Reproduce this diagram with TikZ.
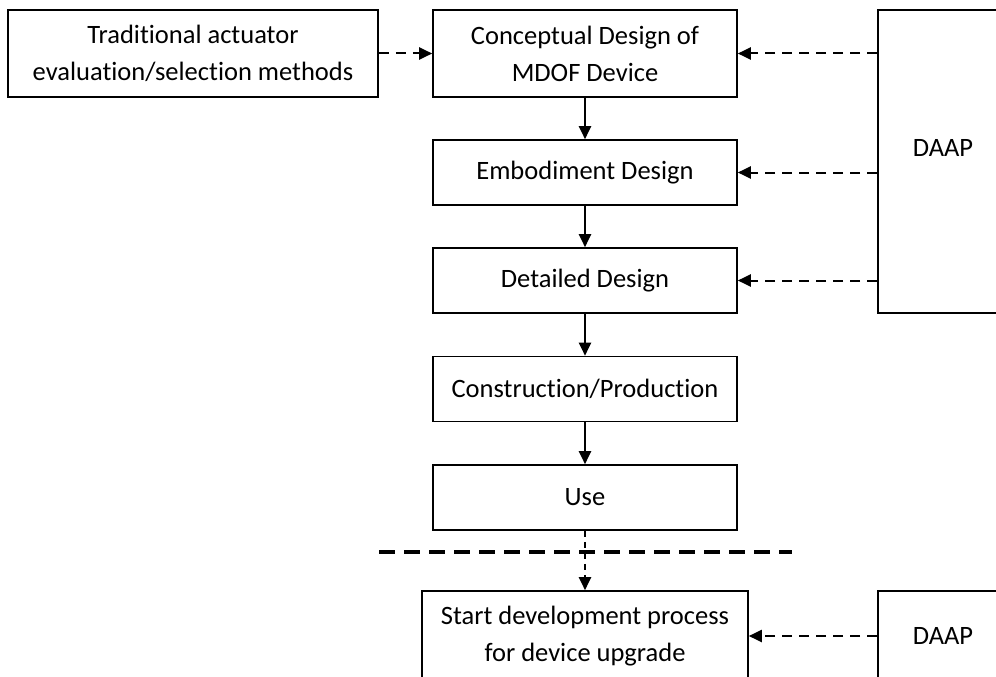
\documentclass[tikz,border=0pt]{standalone}
\usepackage{fontspec}
\setmainfont[Ligatures=NoCommon]{Carlito}
\usetikzlibrary{arrows.meta}
\begin{document}
\begin{tikzpicture}[x=1pt,y=-1pt,
  box/.style={draw, line width=1.6pt, inner sep=0pt, align=center,
    font=\fontsize{26.5}{37}\selectfont},
  lbl/.style={inner sep=0pt, font=\fontsize{26.5}{37}\selectfont},
  solidarr/.style={line width=2pt, -{Triangle[length=13pt,width=12pt]}},
  dasharr/.style={line width=2pt, dash pattern=on 10pt off 7pt, -{Triangle[length=13pt,width=12pt]}},
  sepline/.style={line width=3.4pt, dash pattern=on 16pt off 9pt}
]
\useasboundingbox (0,0) rectangle (996,677);
\clip (0,0) rectangle (996,677);

\node[box, minimum width=370pt, minimum height=87pt] (trad) at (193,53.5)
  {Traditional actuator\\evaluation/selection methods};
\node[box, minimum width=304pt, minimum height=87pt] (conc) at (585,53.5)
  {Conceptual Design of\\MDOF Device};
\node[box, minimum width=304pt, minimum height=65pt] (emb) at (585,172.5) {Embodiment Design};
\node[box, minimum width=304pt, minimum height=65pt] (det) at (585,280.5) {Detailed Design};
\node[box, minimum width=304pt, minimum height=65pt] (cons) at (585,389) {Construction/Production};
\node[box, minimum width=304pt, minimum height=65pt] (use) at (585,497.5) {Use};
\node[box, minimum width=326pt, minimum height=90pt] (start) at (585,636)
  {Start development process\\for device upgrade};

\node[box, minimum width=130pt, minimum height=303pt] (daap) at (943,161.5) {};
\node[lbl] (daaptext) at (943,148) {DAAP};
\node[box, minimum width=130pt, minimum height=90pt] (daap2) at (943,636) {DAAP};

\draw[solidarr] (conc) -- (emb);
\draw[solidarr] (emb) -- (det);
\draw[solidarr] (det) -- (cons);
\draw[solidarr] (cons) -- (use);

\draw[dasharr] (trad) -- (conc);
\draw[dasharr] (daap.west |- conc.east) -- (conc.east);
\draw[dasharr] (daap.west |- emb.east) -- (emb.east);
\draw[dasharr] (daap.west |- det.east) -- (det.east);

\coordinate (sepl) at (379,552);
\coordinate (sepr) at (792,552);
\draw[sepline] (sepl) -- (sepr);

\draw[dasharr, dash pattern=on 6pt off 5pt] (use) -- (start);
\draw[dasharr] (daap2) -- (start);
\end{tikzpicture}
\end{document}
